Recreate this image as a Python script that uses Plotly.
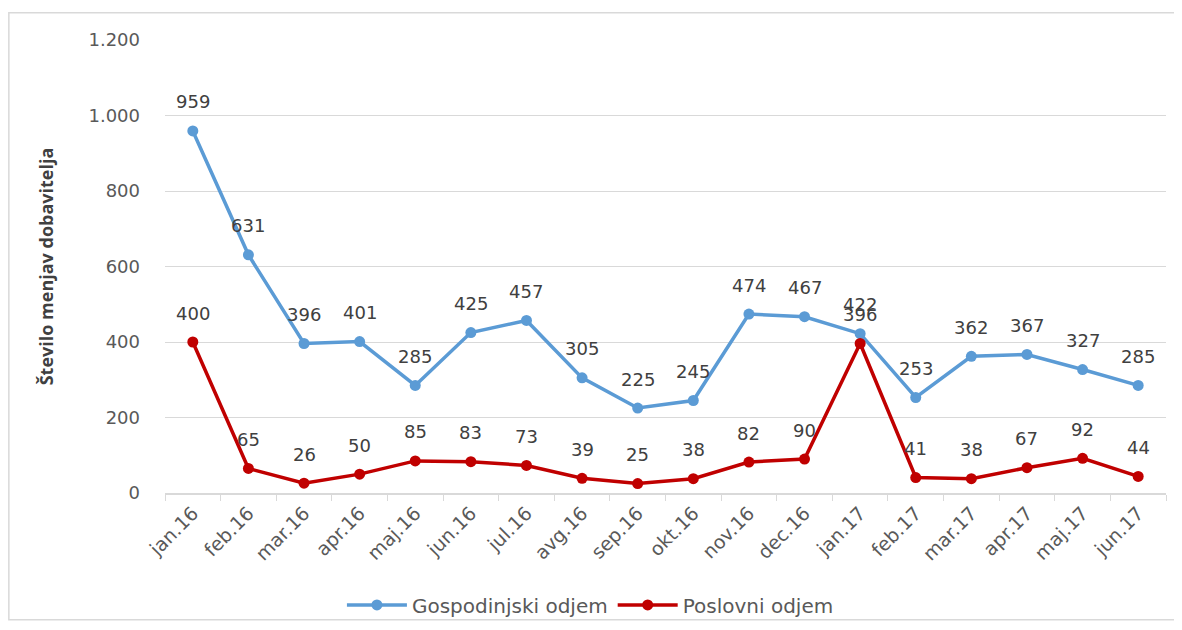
import plotly.graph_objects as go

months = ["jan.16", "feb.16", "mar.16", "apr.16", "maj.16", "jun.16", "jul.16", "avg.16",
          "sep.16", "okt.16", "nov.16", "dec.16", "jan.17", "feb.17", "mar.17", "apr.17",
          "maj.17", "jun.17"]
gospodinjski = [959, 631, 396, 401, 285, 425, 457, 305, 225, 245, 474, 467, 422, 253, 362, 367, 327, 285]
poslovni = [400, 65, 26, 50, 85, 83, 73, 39, 25, 38, 82, 90, 396, 41, 38, 67, 92, 44]
y_ticks = [0, 200, 400, 600, 800, 1000, 1200]
y_tick_text = ["0", "200", "400", "600", "800", "1.000", "1.200"]

font_family = "DejaVu Sans, Verdana, sans-serif"
title_font = "Open Sans, Liberation Sans, Arial, sans-serif"
text_color = "#595959"
label_color = "#404040"

series = [
    ("Gospodinjski odjem", gospodinjski, "#5B9BD5"),
    ("Poslovni odjem", poslovni, "#C00000"),
]

fig = go.Figure()
annotations = []
for name, values, color in series:
    fig.add_trace(go.Scatter(
        x=months, y=values, name=name, mode="lines+markers",
        line=dict(color=color, width=3.5),
        marker=dict(size=11, color=color),
    ))
    for m, v in zip(months, values):
        annotations.append(dict(
            x=m, y=v, xref="x", yref="y", text=str(v), showarrow=False,
            yshift=29, font=dict(size=18, color=label_color, family=font_family),
        ))

fig.update_layout(
    width=1174, height=622,
    margin=dict(l=157, r=16, t=32, b=137, autoexpand=False),
    paper_bgcolor="white", plot_bgcolor="white",
    font=dict(family=font_family, color=text_color, size=18),
    showlegend=True,
    legend=dict(orientation="h", x=0.425, xanchor="center", y=-0.247, yanchor="middle",
                bgcolor="rgba(0,0,0,0)",
                font=dict(size=20, color=text_color), itemwidth=60),
    xaxis=dict(
        range=[-0.5, len(months) - 0.5],
        tickangle=-45, tickson="boundaries", ticks="outside", ticklen=6,
        tickcolor="#D9D9D9", showline=True, linecolor="#D9D9D9", linewidth=1.5,
        showgrid=False, tickfont=dict(size=19, color=text_color), automargin=False,
    ),
    yaxis=dict(
        range=[0, 1200], tickvals=y_ticks, ticktext=y_tick_text,
        showgrid=True, gridcolor="#D9D9D9", gridwidth=1, zeroline=False,
        showline=False, ticks="", ticklabelstandoff=24, automargin=False,
        tickfont=dict(size=18, color=text_color),
        title=dict(text="<b>Število menjav dobavitelja</b>",
                   font=dict(size=18, color="#404040", family=title_font), standoff=30),
    ),
    annotations=annotations,
    shapes=[dict(type="rect", xref="paper", yref="paper",
                 x0=-0.156, x1=1.014, y0=-0.28, y1=1.06,
                 line=dict(color="#D9D9D9", width=1.5), fillcolor="rgba(0,0,0,0)",
                 layer="below")],
)

fig.write_html("out.html")
